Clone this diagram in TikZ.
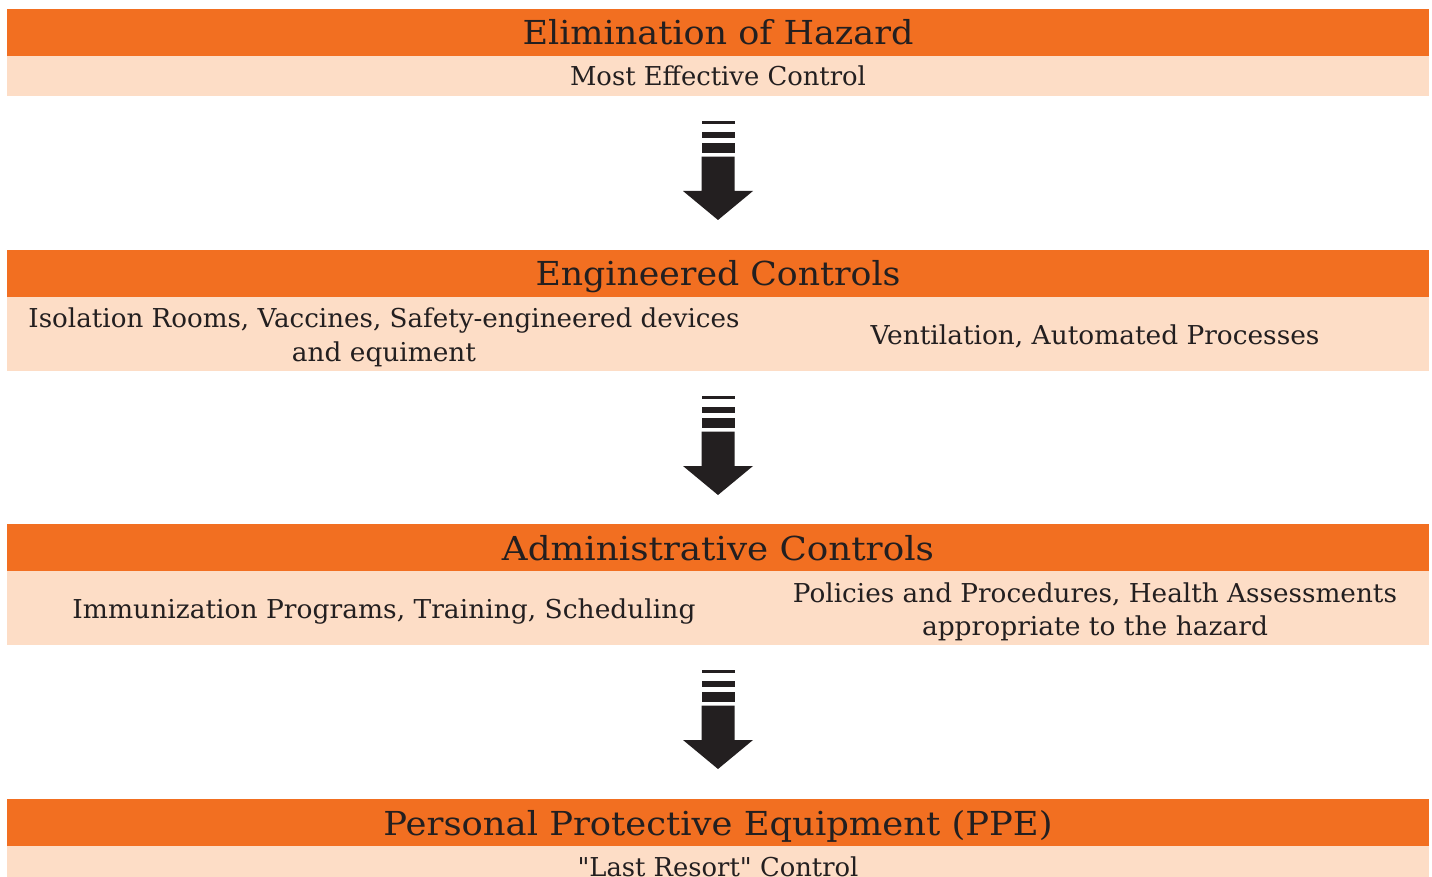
\documentclass[tikz,border=0pt]{standalone}
\usepackage{fontspec}
\usepackage{graphicx}
\newfontfamily\hzfont{DejaVu Serif}
\definecolor{hzorange}{HTML}{F26F21}
\definecolor{hzlight}{HTML}{FDDDC6}
\definecolor{hzink}{HTML}{231F20}
\newcommand\fitto[2]{\resizebox{#1pt}{\height}{#2}}
\begin{document}
\begin{tikzpicture}[x=1pt,y=-1pt,
  obar/.style={fill=hzorange, draw=none, inner sep=0pt, outer sep=0pt, minimum width=1422pt, minimum height=47pt, anchor=north west},
  lbar/.style={fill=hzlight, draw=none, inner sep=0pt, outer sep=0pt, minimum width=1422pt, anchor=north west},
  ttl/.style={anchor=base, inner sep=0pt, text=hzink, font=\hzfont\fontsize{33}{33}\selectfont},
  sub/.style={anchor=base, inner sep=0pt, text=hzink, font=\hzfont\fontsize{26}{26}\selectfont},
  hzarrow/.pic={
    \fill[hzink] (-16.5,0) rectangle (16.5,3);
    \fill[hzink] (-16.5,11) rectangle (16.5,17.3);
    \fill[hzink] (-16.5,22.3) rectangle (16.5,32.3);
    \fill[hzink] (-16.5,35.7) -- (16.5,35.7) -- (16.5,70) -- (35,70) -- (0,99) -- (-35,70) -- (-16.5,70) -- cycle;
  }]
\useasboundingbox (0,0) rectangle (1432,877);
\fill[white] (0,0) rectangle (1432,877);
% band 1
\node[obar] (b1) at (7,9) {};
\node[lbar, minimum height=40.5pt] (l1) at (7,56) {};
\node[ttl] (t1) at (718,45) {\fitto{391}{Elimination of Hazard}};
\node[sub] (s1) at (718,86) {\fitto{296}{Most Effective Control}};
% band 2
\node[obar] (b2) at (7,250) {};
\node[lbar, minimum height=74pt] (l2) at (7,297) {};
\node[ttl] (t2) at (718,286) {\fitto{365}{Engineered Controls}};
\node[sub] (s2a) at (384,327) {\fitto{711}{Isolation Rooms, Vaccines, Safety-engineered devices}};
\node[sub] (s2b) at (384,361) {\fitto{184}{and equiment}};
\node[sub] (s2c) at (1095,344) {\fitto{449}{Ventilation, Automated Processes}};
% band 3
\node[obar] (b3) at (7,524) {};
\node[lbar, minimum height=74pt] (l3) at (7,571) {};
\node[ttl] (t3) at (718,560) {\fitto{432}{Administrative Controls}};
\node[sub] (s3a) at (384,618) {\fitto{623}{Immunization Programs, Training, Scheduling}};
\node[sub] (s3b) at (1095,602) {\fitto{604}{Policies and Procedures, Health Assessments}};
\node[sub] (s3c) at (1095,635) {\fitto{346}{appropriate to the hazard}};
% band 4
\node[obar] (b4) at (7,799) {};
\node[lbar, minimum height=31pt] (l4) at (7,846) {};
\node[ttl] (t4) at (718,835) {\fitto{669}{Personal Protective Equipment (PPE)}};
\node[sub] (s4) at (718,876) {\fitto{281}{"Last Resort" Control}};
% arrows
\pic at (718,121) {hzarrow};
\pic at (718,396) {hzarrow};
\pic at (718,670) {hzarrow};
\end{tikzpicture}
\end{document}
